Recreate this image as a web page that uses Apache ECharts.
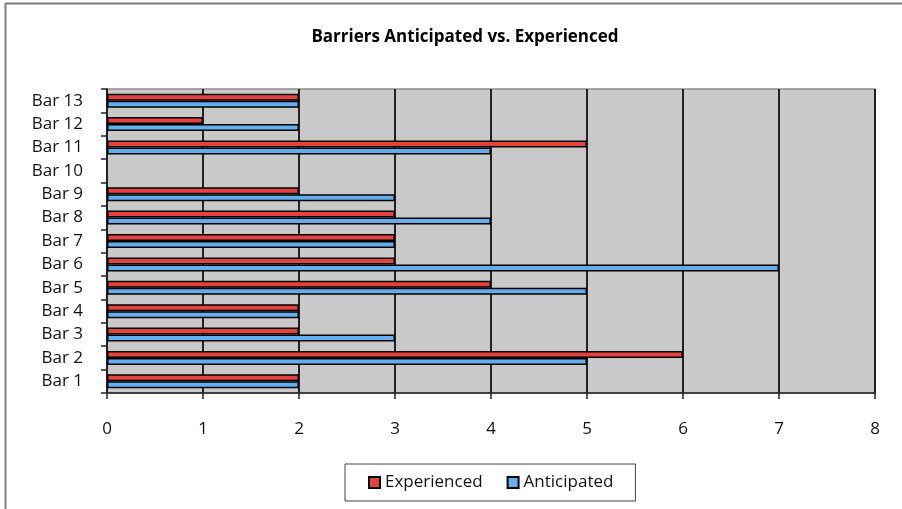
<!DOCTYPE html>
<html>
<head>
<meta charset="utf-8">
<style>
  html, body { margin: 0; padding: 0; background: #fff; }
  #chart { width: 902px; height: 509px; }
</style>
<script src="https://cdn.jsdelivr.net/npm/echarts@6/dist/echarts.min.js"></script>
</head>
<body>
<div id="chart"></div>
<script>
// Barrier categories, bottom to top
const categories = ['Bar 1', 'Bar 2', 'Bar 3', 'Bar 4', 'Bar 5', 'Bar 6', 'Bar 7',
                    'Bar 8', 'Bar 9', 'Bar 10', 'Bar 11', 'Bar 12', 'Bar 13'];
// Counts per barrier
const experienced = [2, 6, 2, 2, 4, 3, 3, 3, 2, null, 5, 1, 2];
const anticipated = [2, 5, 3, 2, 5, 7, 3, 4, 3, null, 4, 2, 2];
const xTicks = { min: 0, max: 8, step: 1 };

const FONT = '"Open Sans", "Liberation Sans", sans-serif';

const chart = echarts.init(document.getElementById('chart'), null, { renderer: 'canvas' });

chart.setOption({
  backgroundColor: '#ffffff',
  animation: false,
  title: {
    text: 'Barriers Anticipated vs. Experienced',
    left: 460,
    textAlign: 'center',
    top: 24,
    textStyle: { fontFamily: FONT, fontSize: 17, fontWeight: 'bold', color: '#000' }
  },
  legend: {
    data: ['Experienced', 'Anticipated'],
    left: 345,
    top: 464,
    padding: [10, 22, 10, 23],
    itemGap: 24,
    itemWidth: 11,
    itemHeight: 11,
    icon: 'rect',
    borderColor: '#444',
    borderWidth: 1,
    textStyle: { fontFamily: FONT, fontSize: 17, color: '#111' }
  },
  grid: {
    left: 107,
    right: 27,
    top: 89,
    bottom: 116,
    show: true,
    backgroundColor: '#c9c9c9',
    borderColor: '#8c8c8c',
    borderWidth: 1.5
  },
  xAxis: {
    type: 'value',
    min: xTicks.min,
    max: xTicks.max,
    interval: xTicks.step,
    axisLine: { show: true, lineStyle: { color: '#222', width: 1.5 } },
    axisTick: { show: true, length: 6, lineStyle: { color: '#222', width: 1.5 } },
    axisLabel: { margin: 28, fontFamily: FONT, fontSize: 17, color: '#111' },
    splitLine: { show: true, lineStyle: { color: '#222', width: 2 } }
  },
  yAxis: {
    type: 'category',
    data: categories,
    axisLine: { show: true, lineStyle: { color: '#222', width: 1.5 } },
    axisTick: { show: true, length: 6, alignWithLabel: false, lineStyle: { color: '#222', width: 1.5 } },
    axisLabel: { margin: 24, fontFamily: FONT, fontSize: 17, color: '#111' },
    splitLine: { show: false }
  },
  series: [
    {
      name: 'Experienced',
      type: 'bar',
      data: experienced,
      barWidth: 7,
      barGap: '0%',
      itemStyle: { color: '#e5413d', borderColor: '#000', borderWidth: 1.5 }
    },
    {
      name: 'Anticipated',
      type: 'bar',
      data: anticipated,
      barWidth: 7,
      barGap: '0%',
      itemStyle: { color: '#62aeef', borderColor: '#000', borderWidth: 1.5 }
    }
  ],
  graphic: [
    { type: 'line', shape: { x1: 5, y1: 3.5, x2: 902, y2: 3.5 },
      style: { stroke: '#7f7f7f', lineWidth: 2 } },
    { type: 'line', shape: { x1: 5.5, y1: 3, x2: 5.5, y2: 509 },
      style: { stroke: '#7f7f7f', lineWidth: 2 } }
  ]
});
</script>
</body>
</html>
